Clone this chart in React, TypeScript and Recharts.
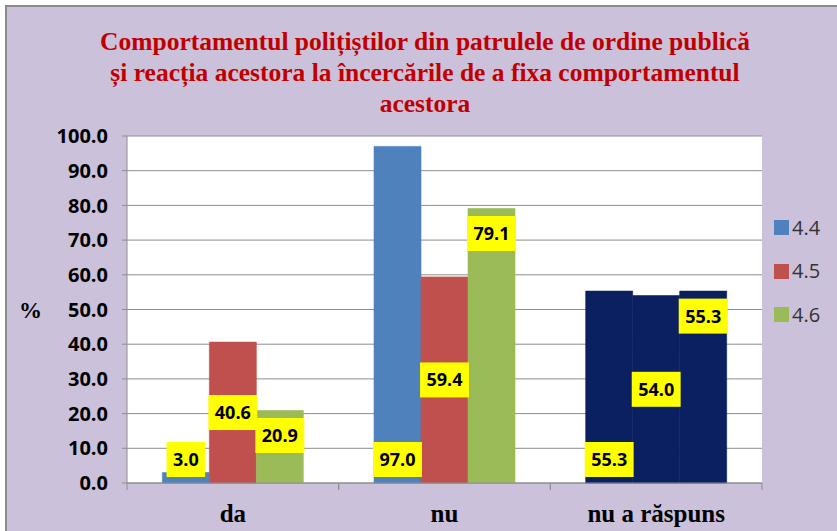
import React from 'react';
import { BarChart, Bar, XAxis, YAxis, CartesianGrid, Legend, LabelList, Cell } from 'recharts';

const categories = ['da', 'nu', 'nu a răspuns'];
const series44 = [3.0, 97.0, 55.3];
const series45 = [40.6, 59.4, 54.0];
const series46 = [20.9, 79.1, 55.3];
const seriesNames = ['4.4', '4.5', '4.6'];
const yTicks = [0, 10, 20, 30, 40, 50, 60, 70, 80, 90, 100];
const titleLines = [
  'Comportamentul polițiștilor din patrulele de ordine publică',
  'și reacția acestora la încercările de a fixa comportamentul',
  'acestora',
];
const yAxisLabel = '%';
const highlightCategory = 'nu a răspuns';

const colors = ['#4f81bd', '#c0504d', '#9bbb59'];
const navy = '#0b2060';
const gridColor = '#8e8e8e';

const data = categories.map((c, i) => ({
  name: c,
  s44: series44[i],
  s45: series45[i],
  s46: series46[i],
}));

type Pos = 'bottom' | 'center' | 'top';

const makeLabel = (pos: Pos) => (props: any) => {
  const vb = props.viewBox || {};
  const x = Number(props.x ?? vb.x);
  const y = Number(props.y ?? vb.y);
  const w = Number(props.width ?? vb.width);
  const h = Number(props.height ?? vb.height);
  if (!isFinite(x) || !isFinite(y)) return null;
  const text = Number(props.value).toFixed(1);
  const tw = text.split('').reduce((s: number, ch: string) => s + (ch === '.' ? 5 : 10.3), 0);
  const bw = tw + 13;
  const bh = 35;
  const cx = x + w / 2;
  let top: number;
  if (pos === 'bottom') top = y + h - 6 - bh;
  else if (pos === 'center') top = y + h / 2 - bh / 2;
  else top = y + 7.5;
  return (
    <g>
      <rect x={cx - bw / 2} y={top} width={bw} height={bh} fill="#ffff00" />
      <text
        x={cx}
        y={top + bh / 2 + 6.4}
        textAnchor="middle"
        fontFamily="Open Sans"
        fontWeight={700}
        fontSize={18}
        fill="#000"
      >
        {text}
      </text>
    </g>
  );
};

const XTick = (props: any) => {
  const { x, y, payload } = props;
  const half = payload && typeof payload.offset === 'number' && payload.offset > 0 ? payload.offset : 105.8;
  return (
    <g>
      <line x1={x - half} x2={x - half} y1={y} y2={y + 7} stroke={gridColor} />
      <line x1={x + half} x2={x + half} y1={y} y2={y + 7} stroke={gridColor} />
      <text
        x={x}
        y={y + 39}
        textAnchor="middle"
        fontFamily="Liberation Serif"
        fontWeight={700}
        fontSize={25}
        fill="#000"
      >
        {payload.value}
      </text>
    </g>
  );
};

const LegendContent = () => (
  <div style={{ paddingLeft: 12 }}>
    {seriesNames.map((n, i) => (
      <div key={n} style={{ height: 43.5, display: 'flex', alignItems: 'center' }}>
        <span
          style={{ width: 15, height: 15, background: colors[i], display: 'inline-block', marginRight: 3 }}
        />
        <span style={{ fontFamily: 'Open Sans', fontSize: 20, color: '#333', lineHeight: '24px' }}>{n}</span>
      </div>
    ))}
  </div>
);

const cellColor = (name: string, idx: number) => (name === highlightCategory ? navy : colors[idx]);

export default function App() {
  return (
    <div style={{ position: 'absolute', left: 0, top: 0, width: 837, height: 531, background: '#fff', overflow: 'hidden' }}>
      <div
        style={{
          position: 'absolute',
          left: 5,
          top: 5,
          width: 840,
          height: 540,
          background: '#ccc1da',
          borderLeft: '2px solid #8a8a8a',
          borderTop: '2px solid #8a8a8a',
        }}
      />
      <div
        style={{
          position: 'absolute',
          left: 25,
          top: 26,
          width: 800,
          textAlign: 'center',
          fontFamily: 'Liberation Serif',
          fontWeight: 700,
          fontSize: 25.5,
          lineHeight: '31px',
          color: '#c00000',
          whiteSpace: 'nowrap',
        }}
      >
        {titleLines.map((l) => (
          <div key={l}>{l}</div>
        ))}
      </div>
      <div style={{ position: 'absolute', left: 0, top: 0 }}>
        <BarChart
          width={837}
          height={531}
          data={data}
          margin={{ top: 136, right: 75, bottom: 0, left: 0 }}
          barCategoryGap="16.7%"
          barGap={0}
        >
          <CartesianGrid horizontal vertical={false} stroke={gridColor} fill="#ffffff" />
          <XAxis
            dataKey="name"
            height={48}
            interval={0}
            tickSize={0}
            tickMargin={0}
            tickLine={false}
            axisLine={{ stroke: gridColor }}
            tick={<XTick />}
          />
          <YAxis
            width={127}
            domain={[0, 100]}
            ticks={yTicks}
            interval={0}
            tickSize={5}
            tickMargin={14}
            tickFormatter={(v: number) => v.toFixed(1)}
            axisLine={{ stroke: gridColor }}
            tickLine={{ stroke: gridColor }}
            tick={{ fill: '#000', fontSize: 20, fontWeight: 700, fontFamily: 'Open Sans' }}
            label={{
              value: yAxisLabel,
              position: 'insideLeft',
              offset: 19,
              angle: 0,
              style: { fontFamily: 'Liberation Serif', fontWeight: 700, fontSize: 23, fill: '#000' },
            }}
          />
          <Legend
            layout="vertical"
            align="center"
            verticalAlign="middle"
            wrapperStyle={{ left: 762, top: 206, width: 75 }}
            content={<LegendContent />}
          />
          <Bar dataKey="s44" name={seriesNames[0]} fill={colors[0]} isAnimationActive={false}>
            {data.map((d) => (
              <Cell key={d.name} fill={cellColor(d.name, 0)} stroke={cellColor(d.name, 0)} strokeWidth={0.6} />
            ))}
            <LabelList dataKey="s44" content={makeLabel('bottom')} />
          </Bar>
          <Bar dataKey="s45" name={seriesNames[1]} fill={colors[1]} isAnimationActive={false}>
            {data.map((d) => (
              <Cell key={d.name} fill={cellColor(d.name, 1)} stroke={cellColor(d.name, 1)} strokeWidth={0.6} />
            ))}
            <LabelList dataKey="s45" content={makeLabel('center')} />
          </Bar>
          <Bar dataKey="s46" name={seriesNames[2]} fill={colors[2]} isAnimationActive={false}>
            {data.map((d) => (
              <Cell key={d.name} fill={cellColor(d.name, 2)} stroke={cellColor(d.name, 2)} strokeWidth={0.6} />
            ))}
            <LabelList dataKey="s46" content={makeLabel('top')} />
          </Bar>
        </BarChart>
      </div>
    </div>
  );
}
